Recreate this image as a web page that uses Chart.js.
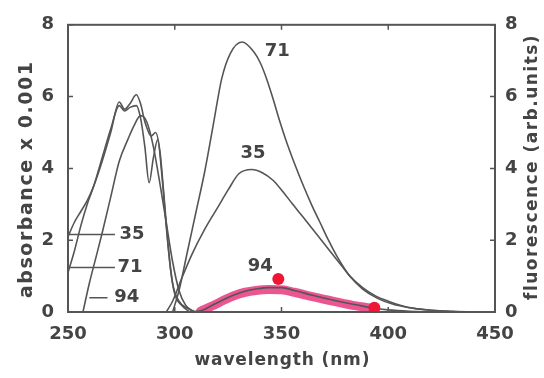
<!DOCTYPE html>
<html lang="en">
<head>
<meta charset="UTF-8">
<title>Absorbance and fluorescence spectra</title>
<script src="https://cdn.jsdelivr.net/npm/chart.js"></script>
<style>
    body { margin: 0; background: #fff; }
    canvas { display: block; }
</style>
</head>
<body>
<canvas id="spectraChart" width="544" height="378"></canvas>
<script>
    // axis ticks
    const wavelengthTicks = [250, 300, 350, 400, 450];
    const valueTicks = [0, 2, 4, 6, 8];

    // absorption spectra [nm, absorbance x 0.001]
    const abs35 = [[250, 2.1], [253, 2.5], [256, 2.8], [259, 3.1], [262, 3.5], [266, 4.2], [270, 5.0], [274, 5.85], [276.5, 5.65], [279, 5.8], [282, 6.05], [284, 5.8], [286, 5.3], [289, 4.9], [291, 5.0], [293, 4.5], [295, 3.2], [297, 1.8], [299, 0.8], [302, 0.3], [306, 0.1], [310, 0]];
    const abs71 = [[250, 1.1], [253, 1.7], [256, 2.4], [259, 3.0], [262, 3.5], [266, 4.3], [270, 5.1], [274, 5.75], [276.5, 5.6], [279, 5.7], [282, 5.75], [284, 5.4], [286, 4.6], [288, 3.6], [290, 4.3], [292, 4.8], [294, 3.8], [296, 2.4], [298, 1.2], [300, 0.5], [303, 0.2], [307, 0]];
    const abs94 = [[257, 0], [260, 0.8], [263, 1.5], [266, 2.2], [270, 3.2], [274, 4.2], [278, 4.8], [281, 5.2], [284, 5.47], [286, 5.4], [288, 5.1], [290, 4.6], [293, 3.6], [296, 2.5], [299, 1.4], [302, 0.6], [305, 0.2], [309, 0]];

    // fluorescence spectra [nm, arb. units]
    const fl71 = [[299, 0], [302, 0.6], [306, 1.7], [310, 2.8], [314, 3.9], [318, 5.2], [322, 6.5], [326, 7.2], [331.5, 7.52], [337, 7.25], [340, 6.95], [343, 6.5], [346, 5.95], [349, 5.35], [352, 4.8], [356, 4.15], [360, 3.55], [364, 3.0], [368, 2.5], [372, 2.0], [376, 1.55], [382, 1.0], [388, 0.64], [395, 0.38], [402, 0.22], [410, 0.12], [420, 0.05], [430, 0.02], [445, 0]];
    const fl35 = [[296, 0], [299, 0.3], [303, 0.9], [308, 1.6], [314, 2.3], [320, 2.9], [325, 3.4], [330, 3.85], [336, 3.97], [341, 3.88], [346, 3.67], [350, 3.4], [355, 3.02], [360, 2.65], [365, 2.28], [370, 1.9], [374, 1.6], [378, 1.3], [382, 1.0], [388, 0.68], [394, 0.45], [400, 0.3], [406, 0.18], [412, 0.1], [420, 0.05], [428, 0.02], [440, 0]];
    const fl94 = [[308, 0], [313, 0.05], [318, 0.2], [323, 0.35], [328, 0.48], [333, 0.58], [338, 0.64], [344, 0.68], [350, 0.68], [356, 0.6], [365, 0.46], [375, 0.32], [385, 0.2], [392, 0.12], [400, 0.06], [410, 0.02], [420, 0]];

    // hand marking over the 94 curve
    const highlight94 = [[312, 0.02], [318, 0.18], [323, 0.33], [328, 0.46], [333, 0.55], [338, 0.6], [344, 0.63], [350, 0.62], [356, 0.55], [365, 0.42], [375, 0.29], [385, 0.17], [394, 0.09]];
    const redMarks = [[348.5, 0.92], [393.5, 0.12]];

    // curve labels
    const curveLabels = [
        { text: '71', x: 348, y: 7.25 },
        { text: '35', x: 336.7, y: 4.42 },
        { text: '94', x: 340, y: 1.27 },
        { text: '35', x: 280, y: 2.16 },
        { text: '71', x: 279, y: 1.24 },
        { text: '94', x: 277.5, y: 0.4 }
    ];
    const leaderLines = [
        { from: 250.5, to: 272, y: 2.16 },
        { from: 251, to: 272, y: 1.24 },
        { from: 260, to: 268.5, y: 0.4 }
    ];

    const ink = '#555';
    const textInk = '#444';
    const fontName = '"DejaVu Sans", sans-serif';

    function curve(data, axis) {
        return {
            data: data,
            yAxisID: axis,
            borderColor: ink,
            borderWidth: 1.6,
            pointRadius: 0,
            fill: false,
            tension: 0.4,
            cubicInterpolationMode: 'monotone'
        };
    }

    // draws frame, inward ticks, labels and axis titles
    const frame = {
        id: 'frame',
        afterDatasetsDraw(chart) {
            const { ctx, chartArea: a, scales: { x, y } } = chart;
            ctx.save();
            ctx.strokeStyle = ink;
            ctx.lineWidth = 2;
            ctx.strokeRect(a.left, a.top, a.right - a.left, a.bottom - a.top);

            ctx.lineWidth = 1.5;
            ctx.beginPath();
            wavelengthTicks.forEach(v => {
                const px = x.getPixelForValue(v);
                ctx.moveTo(px, a.bottom); ctx.lineTo(px, a.bottom - 5);
                ctx.moveTo(px, a.top); ctx.lineTo(px, a.top + 5);
            });
            valueTicks.forEach(v => {
                const py = y.getPixelForValue(v);
                ctx.moveTo(a.left, py); ctx.lineTo(a.left + 5, py);
                ctx.moveTo(a.right, py); ctx.lineTo(a.right - 5, py);
            });
            leaderLines.forEach(l => {
                const py = y.getPixelForValue(l.y);
                ctx.moveTo(x.getPixelForValue(l.from), py);
                ctx.lineTo(x.getPixelForValue(l.to), py);
            });
            ctx.stroke();

            ctx.fillStyle = textInk;
            ctx.font = 'bold 18px ' + fontName;
            ctx.textAlign = 'center';
            ctx.textBaseline = 'middle';
            curveLabels.forEach(l => {
                ctx.fillText(l.text, x.getPixelForValue(l.x), y.getPixelForValue(l.y));
            });

            spacedText(ctx, 'wavelength (nm)', 282, 361, 175, 17, 0);
            spacedText(ctx, 'absorbance x 0.001', 27, 180, 236, 19, -Math.PI / 2);
            spacedText(ctx, 'fluorescence (arb.units)', 533, 168, 264, 17, -Math.PI / 2);
            ctx.restore();
        }
    };

    // bold text of a given size stretched to a given length with letter spacing
    function spacedText(ctx, text, cx, cy, length, size, rotation) {
        ctx.save();
        ctx.font = 'bold ' + size + 'px ' + fontName;
        const gap = (length - ctx.measureText(text).width) / (text.length - 1);
        ctx.letterSpacing = gap.toFixed(2) + 'px';
        ctx.translate(cx, cy);
        ctx.rotate(rotation);
        ctx.textAlign = 'left';
        ctx.textBaseline = 'middle';
        ctx.fillText(text, -length / 2, 0);
        ctx.restore();
    }

    const tickFont = { family: fontName, size: 18, weight: 'bold' };

    const spectraChart = new Chart(document.getElementById('spectraChart'), {
        type: 'line',
        data: {
            datasets: [
                {
                    type: 'scatter',
                    data: redMarks,
                    yAxisID: 'y2',
                    pointRadius: 6,
                    pointBackgroundColor: '#ee1535',
                    pointBorderWidth: 0,
                    showLine: false
                },
                curve(abs35, 'y'),
                curve(abs71, 'y'),
                curve(abs94, 'y'),
                curve(fl71, 'y2'),
                curve(fl35, 'y2'),
                curve(fl94, 'y2'),
                {
                    data: highlight94,
                    yAxisID: 'y2',
                    borderColor: 'rgba(228, 30, 110, 0.75)',
                    borderWidth: 9,
                    borderCapStyle: 'round',
                    pointRadius: 0,
                    tension: 0.4,
                    cubicInterpolationMode: 'monotone'
                }
            ]
        },
        options: {
            responsive: false,
            animation: false,
            layout: { padding: { top: 15, left: 0, right: 0, bottom: 0 } },
            plugins: {
                legend: { display: false },
                tooltip: { enabled: false }
            },
            scales: {
                x: {
                    type: 'linear',
                    min: 250,
                    max: 450,
                    afterFit: s => { s.height = 66; },
                    afterBuildTicks: s => { s.ticks = wavelengthTicks.map(v => ({ value: v })); },
                    ticks: { font: tickFont, color: textInk, padding: 12, maxRotation: 0 },
                    grid: { display: false, drawTicks: false },
                    border: { display: false }
                },
                y: {
                    position: 'left',
                    min: 0,
                    max: 8,
                    afterFit: s => { s.width = 68; },
                    afterBuildTicks: s => { s.ticks = valueTicks.map(v => ({ value: v })); },
                    ticks: { font: tickFont, color: textInk, padding: 14 },
                    grid: { display: false, drawTicks: false },
                    border: { display: false }
                },
                y2: {
                    position: 'right',
                    min: 0,
                    max: 8,
                    afterFit: s => { s.width = 49; },
                    afterBuildTicks: s => { s.ticks = valueTicks.map(v => ({ value: v })); },
                    ticks: { font: tickFont, color: textInk, padding: 10 },
                    grid: { display: false, drawTicks: false },
                    border: { display: false }
                }
            }
        },
        plugins: [frame]
    });
</script>
</body>
</html>
